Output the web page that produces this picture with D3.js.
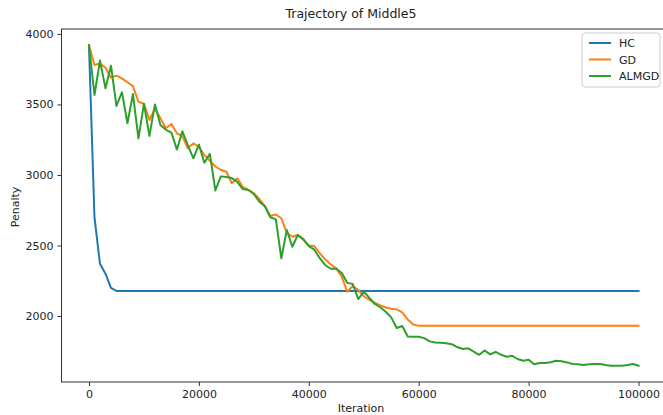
<!DOCTYPE html>
<html>
<head>
<meta charset="utf-8">
<script src="https://cdn.jsdelivr.net/npm/d3@7"></script>
<style>
  html, body { margin: 0; padding: 0; background: #fff; }
  svg { display: block; font-family: "DejaVu Sans", sans-serif; }
</style>
</head>
<body>
<svg id="chart" width="663" height="415"></svg>
<script>
const title = "Trajectory of Middle5";
const xLabel = "Iteration";
const yLabel = "Penalty";
const seriesNames = ["HC", "GD", "ALMGD"];
const xTicks = [0, 20000, 40000, 60000, 80000, 100000];
const yTicks = [2000, 2500, 3000, 3500, 4000];
const iterStep = 1000;

const hcValues = [3920, 2700, 2370, 2300, 2200, 2178, 2178, 2178, 2178, 2178,
  2178, 2178, 2178, 2178, 2178, 2178, 2178, 2178, 2178, 2178,
  2178, 2178, 2178, 2178, 2178, 2178, 2178, 2178, 2178, 2178,
  2178, 2178, 2178, 2178, 2178, 2178, 2178, 2178, 2178, 2178,
  2178, 2178, 2178, 2178, 2178, 2178, 2178, 2178, 2178, 2178,
  2178, 2178, 2178, 2178, 2178, 2178, 2178, 2178, 2178, 2178,
  2178, 2178, 2178, 2178, 2178, 2178, 2178, 2178, 2178, 2178,
  2178, 2178, 2178, 2178, 2178, 2178, 2178, 2178, 2178, 2178,
  2178, 2178, 2178, 2178, 2178, 2178, 2178, 2178, 2178, 2178,
  2178, 2178, 2178, 2178, 2178, 2178, 2178, 2178, 2178, 2178, 2178];

const gdValues = [3920, 3780, 3790, 3760, 3690, 3704, 3685, 3657, 3630, 3519,
  3505, 3390, 3470, 3402, 3331, 3361, 3295, 3274, 3189, 3224,
  3200, 3141, 3100, 3060, 3035, 3023, 2941, 2976, 2915, 2895,
  2870, 2830, 2780, 2710, 2720, 2693, 2590, 2562, 2574, 2540,
  2500, 2496, 2445, 2400, 2365, 2338, 2279, 2172, 2213, 2184,
  2140, 2115, 2095, 2075, 2060, 2052, 2047, 2025, 1975, 1940,
  1930, 1930, 1930, 1930, 1930, 1930, 1930, 1930, 1930, 1930,
  1930, 1930, 1930, 1930, 1930, 1930, 1930, 1930, 1930, 1930,
  1930, 1930, 1930, 1930, 1930, 1930, 1930, 1930, 1930, 1930,
  1930, 1930, 1930, 1930, 1930, 1930, 1930, 1930, 1930, 1930, 1930];

const almgdValues = [3920, 3567, 3811, 3615, 3775, 3489, 3587, 3367, 3574, 3260,
  3504, 3277, 3500, 3354, 3320, 3300, 3180, 3310, 3210, 3118,
  3215, 3087, 3150, 2890, 2990, 2985, 2978, 2950, 2900, 2893,
  2865, 2810, 2778, 2700, 2685, 2409, 2610, 2491, 2574, 2545,
  2495, 2470, 2410, 2360, 2335, 2335, 2305, 2235, 2227, 2120,
  2172, 2130, 2085, 2062, 2030, 1990, 1915, 1929, 1855, 1853,
  1853, 1843, 1820, 1812, 1810, 1807, 1800, 1780, 1766, 1771,
  1748, 1725, 1755, 1728, 1745, 1725, 1711, 1718, 1695, 1683,
  1690, 1658, 1667, 1667, 1672, 1683, 1679, 1671, 1660, 1658,
  1652, 1658, 1660, 1660, 1652, 1648, 1648, 1648, 1652, 1660, 1648];

const colors = ["#1f77b4", "#ff7f0e", "#2ca02c"];
const allSeries = [hcValues, gdValues, almgdValues];

const svg = d3.select("#chart");
const plotLeft = 61.5, plotRight = 666, plotTop = 29, plotBottom = 382;

const x = d3.scaleLinear().domain([-5000, 105000]).range([plotLeft, plotRight]);
const y = d3.scaleLinear().domain([1532, 4035]).range([plotBottom, plotTop]);

svg.append("defs").append("clipPath").attr("id", "clip")
  .append("rect").attr("x", plotLeft).attr("y", plotTop)
  .attr("width", plotRight - plotLeft).attr("height", plotBottom - plotTop);

const line = d3.line().x((d, i) => x(i * iterStep)).y(d => y(d));

const g = svg.append("g").attr("clip-path", "url(#clip)");
allSeries.forEach((vals, k) => {
  g.append("path").datum(vals)
    .attr("fill", "none")
    .attr("stroke", colors[k])
    .attr("stroke-width", 2)
    .attr("stroke-linejoin", "round")
    .attr("stroke-linecap", "square")
    .attr("d", line);
});

// frame
svg.append("rect").attr("x", plotLeft).attr("y", plotTop)
  .attr("width", plotRight - plotLeft).attr("height", plotBottom - plotTop)
  .attr("fill", "none").attr("stroke", "#333").attr("stroke-width", 1);

// axes
const xAxis = d3.axisBottom(x).tickValues(xTicks).tickSize(4).tickPadding(4).tickFormat(d3.format("d"));
const yAxis = d3.axisLeft(y).tickValues(yTicks).tickSize(4).tickPadding(4).tickFormat(d3.format("d"));

const gx = svg.append("g").attr("transform", `translate(0,${plotBottom})`).call(xAxis);
const gy = svg.append("g").attr("transform", `translate(${plotLeft},0)`).call(yAxis);
[gx, gy].forEach(a => {
  a.select(".domain").remove();
  a.selectAll(".tick line").attr("stroke", "#333");
  a.selectAll(".tick text").attr("fill", "#222").style("font-size", "11px").style("font-family", "DejaVu Sans, sans-serif");
});

svg.append("text").attr("x", 351).attr("y", 18).attr("text-anchor", "middle")
  .style("font-size", "12.5px").attr("fill", "#222").text(title);
svg.append("text").attr("x", 361).attr("y", 412).attr("text-anchor", "middle")
  .style("font-size", "11px").attr("fill", "#222").text(xLabel);
svg.append("text").attr("transform", "translate(19,207) rotate(-90)").attr("text-anchor", "middle")
  .style("font-size", "11px").attr("fill", "#222").text(yLabel);

// legend
const lg = svg.append("g");
lg.append("rect").attr("x", 582).attr("y", 33).attr("width", 78).attr("height", 54).attr("rx", 3)
  .attr("fill", "#fff").attr("fill-opacity", 0.8).attr("stroke", "#ccc").attr("stroke-width", 1);
seriesNames.forEach((name, i) => {
  const yy = 43 + i * 16.5;
  lg.append("line").attr("x1", 589).attr("x2", 611).attr("y1", yy).attr("y2", yy)
    .attr("stroke", colors[i]).attr("stroke-width", 2);
  lg.append("text").attr("x", 619).attr("y", yy + 4).style("font-size", "11px").attr("fill", "#222").text(name);
});
</script>
</body>
</html>
